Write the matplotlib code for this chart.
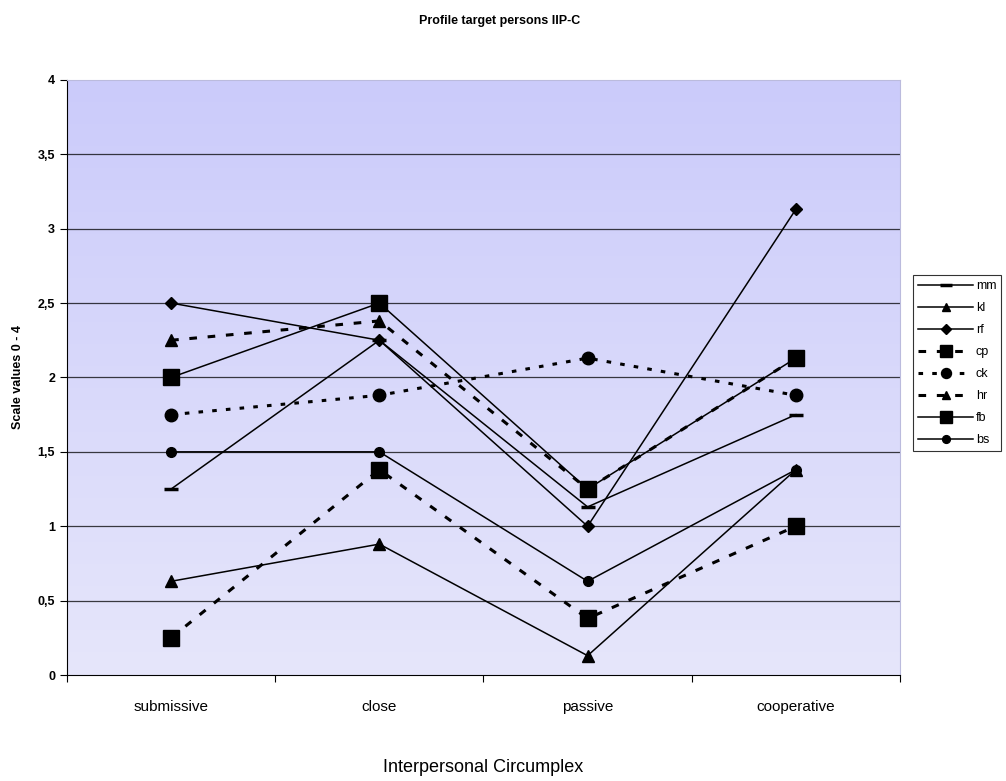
import numpy as np
import matplotlib
matplotlib.use("Agg")
import matplotlib.pyplot as plt
from matplotlib.colors import LinearSegmentedColormap

categories = ["submissive", "close", "passive", "cooperative"]
mm = [1.25, 2.25, 1.13, 1.75]
kl = [0.63, 0.88, 0.13, 1.38]
rf = [2.5, 2.25, 1.0, 3.13]
cp = [0.25, 1.38, 0.38, 1.0]
ck = [1.75, 1.88, 2.13, 1.88]
hr = [2.25, 2.38, 1.25, 2.13]
fb = [2.0, 2.5, 1.25, 2.13]
bs = [1.5, 1.5, 0.63, 1.38]

plt.rcParams['font.family'] = ['Liberation Sans', 'DejaVu Sans']

fig = plt.figure(figsize=(10.06, 7.81), dpi=100)
ax = fig.add_axes([0.0666, 0.1357, 0.828, 0.762])

# background gradient (darker lavender on top)
cmap = LinearSegmentedColormap.from_list("bg", ["#e6e6fa", "#cbcbfb"])
grad = np.linspace(0, 1, 256).reshape(-1, 1)
ax.imshow(grad, aspect="auto", cmap=cmap, origin="lower",
          extent=[0, 1, 0, 1], transform=ax.transAxes, zorder=0)

x = np.arange(len(categories))
k = dict(color="black", lw=1.1, zorder=3)
ax.plot(x, mm, marker="_", ms=10, mew=2.5, ls="-", label="mm", **k)
ax.plot(x, kl, marker="^", ms=8, ls="-", label="kl", **k)
ax.plot(x, rf, marker="D", ms=6, ls="-", label="rf", **k)
ax.plot(x, cp, marker="s", ms=11, color="black", lw=2.2, ls=(0, (2.5, 3.5)), label="cp", zorder=3)
ax.plot(x, ck, marker="o", ms=9, color="black", lw=2.2, ls=(0, (1.5, 3)), label="ck", zorder=3)
ax.plot(x, hr, marker="^", ms=8, color="black", lw=2.2, ls=(0, (2.5, 3.5)), label="hr", zorder=3)
ax.plot(x, fb, marker="s", ms=11, ls="-", label="fb", **k)
ax.plot(x, bs, marker="o", ms=7, ls="-", label="bs", **k)

ax.set_xlim(-0.5, 3.5)
ax.set_ylim(0, 4)
yt = np.arange(0, 4.01, 0.5)
ax.set_yticks(yt)
ax.set_yticklabels([("%g" % v).replace(".", ",") for v in yt], fontsize=9, fontweight="bold")
for v in yt[1:-1]:
    ax.axhline(v, color="black", lw=0.9, alpha=0.75, zorder=1)

ax.set_xticks(np.arange(-0.5, 3.6, 1))
ax.set_xticklabels([])
ax.set_xticks(x, minor=True)
ax.set_xticklabels(categories, minor=True, fontsize=11)
ax.tick_params(axis="x", which="minor", length=0, pad=18)
ax.tick_params(axis="x", which="major", length=5, direction="out")
ax.tick_params(axis="y", length=5, direction="out")

for s in ["top", "right"]:
    ax.spines[s].set_color("#bbbbdd")
    ax.spines[s].set_linewidth(0.8)

ax.set_ylabel("Scale values 0 - 4", fontsize=9, fontweight="bold", labelpad=10)
fig.text(0.497, 0.973, "Profile target persons IIP-C", ha="center", va="center",
         fontsize=9, fontweight="bold")
fig.text(0.48, 0.017, "Interpersonal Circumplex", ha="center", va="center", fontsize=13)

leg = ax.legend(loc="upper left", bbox_to_anchor=(0.908, 0.648),
                bbox_transform=fig.transFigure, fontsize=9, frameon=True,
                fancybox=False, edgecolor="black", handlelength=4.4,
                handletextpad=0.2, borderpad=0.4, labelspacing=0.8,
                markerscale=0.8, borderaxespad=0)
leg.get_frame().set_linewidth(0.8)

fig.savefig("out.png", dpi=100)
